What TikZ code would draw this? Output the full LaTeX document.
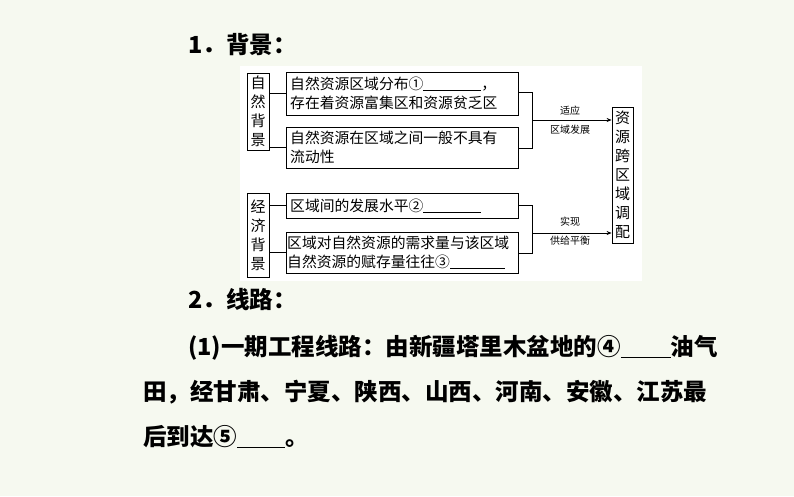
\documentclass[tikz,border=0pt]{standalone}
\usepackage{fontspec}
\newfontfamily\cjk{Noto Sans CJK SC}
\usetikzlibrary{arrows.meta}
\begin{document}
\begin{tikzpicture}[x=1pt,y=-1pt,
  bx/.style={draw,line width=0.8pt,inner sep=0pt},
  txt/.style={font=\cjk\fontsize{14.8}{16}\selectfont,anchor=west,inner sep=0pt},
  vt/.style={font=\cjk\fontsize{15}{19}\selectfont,align=center,inner sep=0pt},
  sm/.style={font=\cjk\fontsize{10}{11}\selectfont,inner sep=0pt},
  big/.style={font=\cjk\bfseries\fontsize{23.5}{26}\selectfont,anchor=west,inner sep=0pt},
  ln/.style={line width=0.8pt},
  ar/.style={line width=0.8pt,-{Stealth[length=5pt,width=4pt]}}]
\fill[fill={rgb,255:red,246;green,249;blue,240}] (0,0) rectangle (794,496);
\useasboundingbox (0,0) rectangle (794,496);
\fill[white] (240,66) rectangle (642,281);
% left boxes
\node[bx,minimum width=22pt,minimum height=77pt] (n) at (258,111.5) {};
\node[vt] at (n) {自\\然\\背\\景};
\node[bx,minimum width=22pt,minimum height=84pt] (e) at (258,235) {};
\node[vt] at (e) {经\\济\\背\\景};
\node[bx,minimum width=21pt,minimum height=136pt] (r) at (622.5,175) {};
\node[vt] at (r) {资\\源\\跨\\区\\域\\调\\配};
% content boxes
\node[bx,minimum width=232pt,minimum height=43pt] (b1) at (402,93.5) {};
\node[txt] at (290,84) {自然资源区域分布①\underline{\hspace{58pt}}，};
\node[txt] at (290,103) {存在着资源富集区和资源贫乏区};
\node[bx,minimum width=232pt,minimum height=41pt] (b2) at (402,147.5) {};
\node[txt] at (290,138) {自然资源在区域之间一般不具有};
\node[txt] at (290,157) {流动性};
\node[bx,minimum width=232pt,minimum height=25pt] (b3) at (402,205.5) {};
\node[txt] at (290,206) {区域间的发展水平②\underline{\hspace{58pt}}};
\node[bx,minimum width=232pt,minimum height=41pt] (b4) at (402,252.5) {};
\node[txt] at (287,243) {区域对自然资源的需求量与该区域};
\node[txt] at (287,262) {自然资源的赋存量往往③\underline{\hspace{55pt}}};
% left connectors
\draw[ln] (n.east|-b1.west) -- (b1.west);
\draw[ln] (n.east|-b2.west) -- (b2.west);
\draw[ln] (e.east|-b3.west) -- (b3.west);
\draw[ln] (e.east|-b4.west) -- (b4.west);
% brackets
\coordinate (j1) at (532,120);
\coordinate (j2) at (532,233);
\draw[ln] (b1.east|-0,92) -- (532,92) -- (532,148) -- (b2.east|-0,148);
\draw[ar] (j1) -- (r.west|-j1);
\draw[ln] (b3.east|-0,205) -- (532,205) -- (532,253) -- (b4.east|-0,253);
\draw[ar] (j2) -- (r.west|-j2);
\node[sm] at (570,111) {适应};
\node[sm] at (570,130) {区域发展};
\node[sm] at (570,222) {实现};
\node[sm] at (570,241) {供给平衡};
% outer text
\node[big] (t1) at (188,45) {1．背景：};
\node[big] (t2) at (188,300) {2．线路：};
\node[big] (t3) at (188,348) {(1)一期工程线路：由新疆塔里木盆地的④\underline{\hspace{50pt}}油气};
\node[big] (t4) at (143,392) {田，经甘肃、宁夏、陕西、山西、河南、安徽、江苏最};
\node[big] (t5) at (143,437) {后到达⑤\underline{\hspace{48pt}}。};
\end{tikzpicture}
\end{document}
